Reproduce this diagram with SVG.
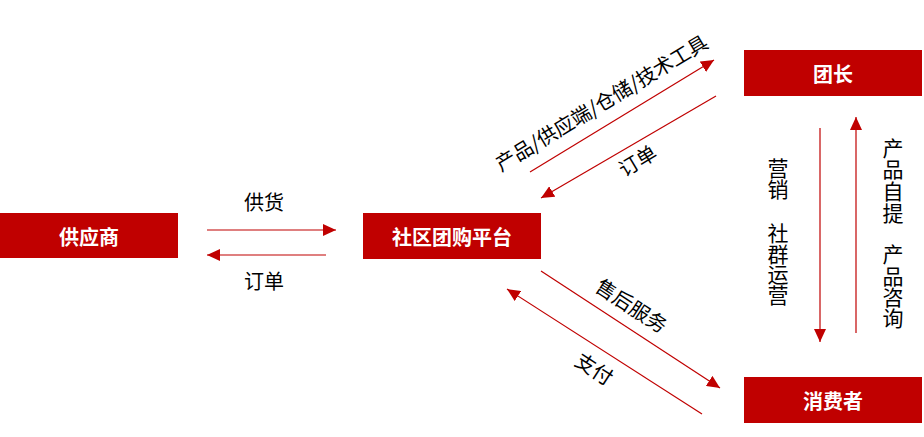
<svg xmlns="http://www.w3.org/2000/svg" width="924" height="437" viewBox="0 0 924 437">
<defs>
<marker id="ah" markerUnits="userSpaceOnUse" markerWidth="14" markerHeight="12" viewBox="0 0 14 12" refX="13" refY="6" orient="auto">
<path d="M0,0 L13,6 L0,12 Z" fill="#C00000"/>
</marker>
<style>
.box{fill:#C00000}
.bt{font-family:"Noto Sans CJK SC","Noto Sans",sans-serif;font-size:20px;font-weight:bold;fill:#fff;text-anchor:middle;dominant-baseline:central}
.lb{font-family:"Noto Sans CJK SC","Noto Sans",sans-serif;font-size:20px;fill:#000;text-anchor:middle;dominant-baseline:central}
.vl{font-family:"Noto Sans CJK SC","Noto Sans",sans-serif;font-size:21px;fill:#000;text-anchor:middle;dominant-baseline:central}
.ln{stroke:#C00000;stroke-width:1.2;fill:none;marker-end:url(#ah)}
</style>
</defs>
<rect width="924" height="437" fill="#fff"/>
<g id="supplier"><rect class="box" x="0" y="213" width="178" height="45"/><text class="bt" x="89" y="236">供应商</text></g>
<g id="platform"><rect class="box" x="363" y="213" width="178" height="46"/><text class="bt" x="452" y="236">社区团购平台</text></g>
<g id="leader"><rect class="box" x="744" y="50" width="178" height="46"/><text class="bt" x="833" y="73">团长</text></g>
<g id="consumer"><rect class="box" x="744" y="377" width="178" height="46"/><text class="bt" x="833" y="400">消费者</text></g>
<g id="connectors">
<line class="ln" x1="207" y1="230" x2="336" y2="230"/>
<line class="ln" x1="326" y1="255" x2="207" y2="255"/>
<line class="ln" x1="530" y1="172" x2="714" y2="60"/>
<line class="ln" x1="716" y1="96" x2="541" y2="198"/>
<line class="ln" x1="541" y1="271" x2="720" y2="388"/>
<line class="ln" x1="702" y1="414" x2="507" y2="289"/>
<line class="ln" x1="820" y1="128" x2="820" y2="342"/>
<line class="ln" x1="856" y1="333" x2="856" y2="117"/>
</g>
<g id="labels">
<text class="lb" x="264" y="201">供货</text>
<text class="lb" x="264" y="280">订单</text>
<text class="lb" transform="translate(601,102) rotate(-31)" font-size="22">产品/供应端/仓储/技术工具</text>
<text class="lb" transform="translate(637,160) rotate(-31)">订单</text>
<text class="lb" transform="translate(632,305) rotate(33)">售后服务</text>
<text class="lb" transform="translate(595,368) rotate(33)">支付</text>
<text class="vl" x="778" y="167">营</text>
<text class="vl" x="778" y="188">销</text>
<text class="vl" x="778" y="232">社</text>
<text class="vl" x="778" y="253">群</text>
<text class="vl" x="778" y="273">运</text>
<text class="vl" x="778" y="294">营</text>
<text class="vl" x="893" y="147">产</text>
<text class="vl" x="893" y="168">品</text>
<text class="vl" x="893" y="190">自</text>
<text class="vl" x="893" y="212">提</text>
<text class="vl" x="893" y="253">产</text>
<text class="vl" x="893" y="275">品</text>
<text class="vl" x="893" y="296">咨</text>
<text class="vl" x="893" y="317">询</text>
</g>
</svg>
